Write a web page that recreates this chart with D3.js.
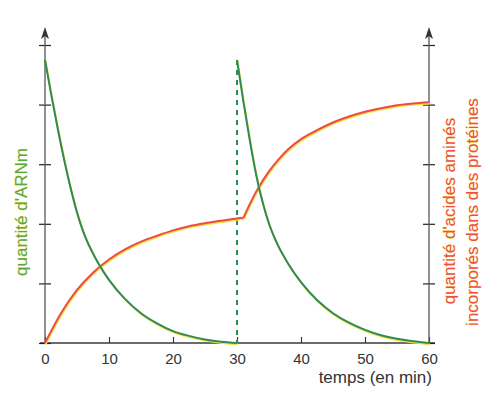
<!DOCTYPE html>
<html>
<head>
<meta charset="utf-8">
<script src="https://cdn.jsdelivr.net/npm/d3@7"></script>
<style>
  html, body { margin: 0; padding: 0; background: #fff; }
  svg { display: block; font-family: "Liberation Sans", Arial, sans-serif; }
</style>
</head>
<body>
<svg id="chart" width="498" height="393"></svg>
<script>
// ---- data ----
const xTicks = [0, 10, 20, 30, 40, 50, 60];
const yTicks = [0, 1, 2, 3, 4, 5];

// mRNA quantity, first pulse (0-30 min)
const arnTimeA  = [0, 1, 2, 3, 4, 5, 6, 8, 10, 12.5, 15, 17.5, 20, 22.5, 25, 27.5, 30];
const arnValueA = [4.75, 4.15, 3.59, 3.07, 2.6, 2.19, 1.86, 1.4, 1.06, 0.74, 0.5, 0.33, 0.2, 0.12, 0.06, 0.02, 0];
// mRNA quantity, second pulse (30-60 min)
const arnTimeB  = [30, 31, 32, 33, 34, 35, 36, 38, 40, 42.5, 45, 47.5, 50, 52.5, 55, 57.5, 60];
const arnValueB = [4.75, 4.05, 3.4, 2.82, 2.36, 2.0, 1.73, 1.33, 1.02, 0.72, 0.5, 0.34, 0.22, 0.13, 0.07, 0.03, 0];

// amino acids incorporated into proteins
const aaTimeA  = [0, 2.5, 5, 7.5, 10, 12.5, 15, 17.5, 20, 22.5, 25, 27.5, 30, 31];
const aaValueA = [0, 0.5, 0.89, 1.18, 1.4, 1.57, 1.7, 1.8, 1.89, 1.96, 2.01, 2.05, 2.09, 2.1];
const aaTimeB  = [31, 32, 33, 34, 35, 36.5, 38, 40, 42.5, 45, 47.5, 50, 52.5, 55, 57.5, 60];
const aaValueB = [2.1, 2.33, 2.54, 2.72, 2.88, 3.08, 3.25, 3.42, 3.57, 3.7, 3.8, 3.88, 3.94, 3.99, 4.02, 4.04];

const xTitle = "temps (en min)";
const leftTitle = "quantité d'ARNm";
const rightTitle1 = "quantité d'acides aminés";
const rightTitle2 = "incorporés dans des protéines";

// ---- drawing ----
const svg = d3.select("#chart");
const x = d3.scaleLinear().domain([0, 60]).range([45, 429]);
const y = d3.scaleLinear().domain([0, 5]).range([343, 45]);

const axisColor = "#3a3a3a";
const green = "#2f8a58";
const red = "#ee4a48";
const yellow = "#f3e23a";

// x axis
const gx = svg.append("g").attr("transform", `translate(0,${y(0)})`)
  .call(d3.axisBottom(x).tickValues(xTicks).tickSizeInner(-6).tickSizeOuter(0).tickPadding(10).tickFormat(d3.format("d")));
gx.select(".domain").remove();
gx.selectAll(".tick line").attr("stroke", axisColor).attr("stroke-width", 1.2);
gx.selectAll(".tick text").attr("fill", "#333").attr("font-size", 15)
  .attr("font-family", "Liberation Sans, Arial, sans-serif");
svg.append("line").attr("x1", 40).attr("x2", 435).attr("y1", y(0)).attr("y2", y(0))
  .attr("stroke", axisColor).attr("stroke-width", 1.3);

// y axes (ticks crossing the axis line)
function yAxis(px) {
  const g = svg.append("g").attr("transform", `translate(${px + 6},0)`)
    .call(d3.axisLeft(y).tickValues(yTicks).tickSize(12).tickFormat(""));
  g.select(".domain").remove();
  g.selectAll(".tick line").attr("stroke", "#222").attr("stroke-width", 1.2);
  svg.append("line").attr("x1", px).attr("x2", px).attr("y1", y(0) + 1).attr("y2", 34)
    .attr("stroke", "#555").attr("stroke-width", 1.3);
  svg.append("path").attr("d", `M${px},27 L${px - 4},39 L${px},36 L${px + 4},39 Z`)
    .attr("fill", "#333");
}
yAxis(x(0));
yAxis(x(60));

// line helpers
const line = d3.line().x(d => x(d[0])).y(d => y(d[1])).curve(d3.curveMonotoneX);
function zip(t, v) { return t.map((d, i) => [d, v[i]]); }
function drawCurve(data, color, dash) {
  svg.append("path").attr("d", line(data)).attr("fill", "none")
    .attr("stroke", yellow).attr("stroke-width", 2).attr("transform", "translate(0.6,1.2)")
    .attr("stroke-dasharray", dash || null);
  svg.append("path").attr("d", line(data)).attr("fill", "none")
    .attr("stroke", color).attr("stroke-width", 2)
    .attr("stroke-dasharray", dash || null);
}

// dashed vertical at second pulse
const dashLine = d3.line().x(d => x(d[0])).y(d => y(d[1]));
svg.append("path").attr("d", dashLine([[arnTimeB[0], arnValueB[0]], [arnTimeB[0], 0]]))
  .attr("stroke", green).attr("stroke-width", 2).attr("stroke-dasharray", "5,5").attr("fill", "none");

drawCurve(zip(aaTimeA, aaValueA), red);
drawCurve(zip(aaTimeB, aaValueB), red);
drawCurve(zip(arnTimeA, arnValueA), green);
drawCurve(zip(arnTimeB, arnValueB), green);

// titles
svg.append("text").attr("x", 432).attr("y", 383).attr("text-anchor", "end")
  .attr("font-size", 17).attr("fill", "#333").text(xTitle);

function vText(px, cy, txt, color) {
  svg.append("text").attr("transform", `translate(${px},${cy}) rotate(-90)`)
    .attr("text-anchor", "middle").attr("font-size", 17).attr("fill", color)
    .attr("stroke", yellow).attr("stroke-width", 0.4).attr("paint-order", "stroke")
    .text(txt);
}
vText(27, 212, leftTitle, "#5aa83a");
vText(455, 211, rightTitle1, "#f0503a");
vText(478, 212, rightTitle2, "#f0503a");
</script>
</body>
</html>
